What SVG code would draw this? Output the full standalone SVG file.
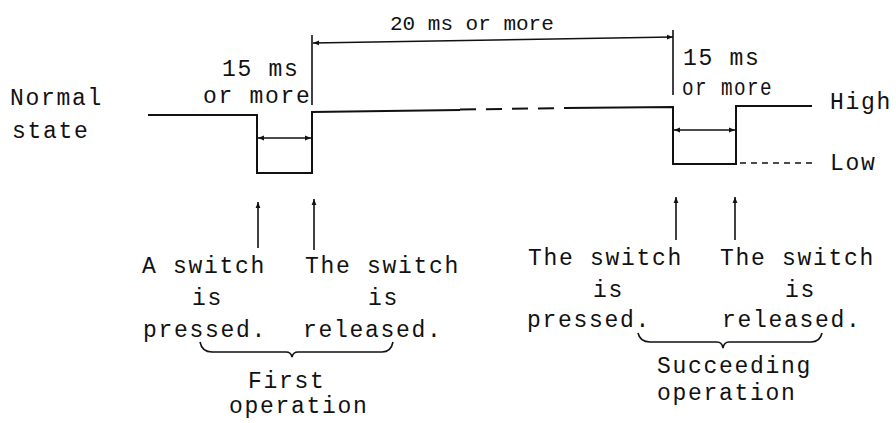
<svg xmlns="http://www.w3.org/2000/svg" width="896" height="423" viewBox="0 0 896 423">
<style>
.t{font-family:"Liberation Mono","DejaVu Sans Mono",monospace;font-size:23px;letter-spacing:1.7px;fill:#111}
.ts{font-family:"Liberation Mono","DejaVu Sans Mono",monospace;font-size:21px;fill:#111}
.ln{stroke:#111;stroke-width:2;fill:none}
.th{stroke:#111;stroke-width:1.6;fill:none}
.dim{stroke:#111;stroke-width:1.6;fill:none;marker-start:url(#ah);marker-end:url(#ah)}
.ptr{stroke:#111;stroke-width:1.6;fill:none;marker-end:url(#ah)}
</style>
<defs>
<marker id="ah" viewBox="0 0 10 10" refX="10" refY="5" markerWidth="8" markerHeight="6" orient="auto-start-reverse" markerUnits="userSpaceOnUse">
<path d="M0,1 L10,5 L0,9 Z" fill="#111"/>
</marker>
</defs>
<rect width="896" height="423" fill="#fff"/>
<g id="signal">
<path class="ln" d="M148,115 H257 V173 H312 V112 L460,110"/>
<path class="ln" d="M460,109.5 L565,108" stroke-dasharray="16 10"/>
<path class="ln" d="M565,108 L673,107 V164 H736 V106 H812"/>
<path class="th" d="M740,163 H817" stroke-dasharray="6 5"/>
</g>
<g id="connectors">
<path class="th" d="M312,35 V105"/>
<path class="th" d="M673,30 V95"/>
<path class="dim" d="M313,43 L673,37"/>
<path class="dim" d="M258,138 H311"/>
<path class="dim" d="M674,130 H735"/>
<path class="ptr" d="M258,248 V202"/>
<path class="ptr" d="M314,250 V199"/>
<path class="ptr" d="M676,240 V197"/>
<path class="ptr" d="M735,240 V197"/>
</g>
<g id="braces">
<path class="th" d="M200,342 Q202,352 212,352 H286 Q291,352 292,357 Q293,352 298,352 H382 Q391,352 393,342"/>
<path class="th" d="M638,333 Q640,342 650,342 H717 Q722,342 723,348 Q724,342 729,342 H811 Q820,342 822,333"/>
</g>
<g id="label-normal">
<text class="t" x="10" y="105">Normal</text>
<text class="t" x="12" y="138">state</text>
</g>
<g id="label-15ms-first">
<text class="t" x="222" y="76">15 ms</text>
<text class="t" x="203" y="103">or more</text>
</g>
<g id="label-20ms">
<text class="ts" x="390" y="30">20 ms or more</text>
</g>
<g id="label-15ms-second">
<text class="t" x="683" y="65">15 ms</text>
<text class="t" x="682" y="95" textLength="91" lengthAdjust="spacingAndGlyphs">or more</text>
</g>
<g id="label-levels">
<text class="t" x="830" y="109">High</text>
<text class="t" x="830" y="170">Low</text>
</g>
<g id="label-first-press">
<text class="t" x="142" y="273">A switch</text>
<text class="t" x="192" y="305">is</text>
<text class="t" x="143" y="337">pressed.</text>
</g>
<g id="label-first-release">
<text class="t" x="305" y="273">The switch</text>
<text class="t" x="368" y="305">is</text>
<text class="t" x="303" y="337">released.</text>
</g>
<g id="label-first-op">
<text class="t" x="248" y="388">First</text>
<text class="t" x="229" y="413">operation</text>
</g>
<g id="label-second-press">
<text class="t" x="528" y="265">The switch</text>
<text class="t" x="593" y="297">is</text>
<text class="t" x="527" y="327">pressed.</text>
</g>
<g id="label-second-release">
<text class="t" x="720" y="265">The switch</text>
<text class="t" x="785" y="297">is</text>
<text class="t" x="722" y="327">released.</text>
</g>
<g id="label-second-op">
<text class="t" x="657" y="373">Succeeding</text>
<text class="t" x="657" y="400">operation</text>
</g>
</svg>
